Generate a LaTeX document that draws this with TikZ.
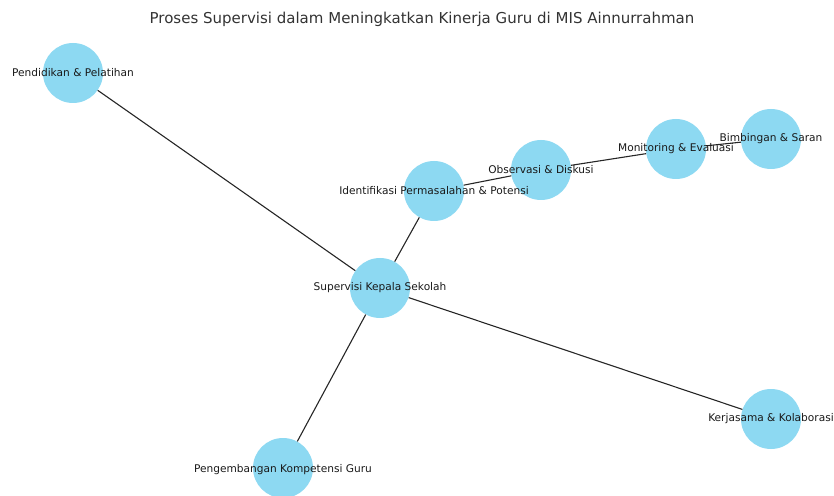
\documentclass[tikz,border=0pt]{standalone}
\usepackage{fontspec}
\setmainfont{DejaVu Sans}
\definecolor{nodeblue}{RGB}{141,217,242}
\definecolor{titlegray}{RGB}{51,51,51}
\begin{document}
\begin{tikzpicture}[x=1bp, y=-1bp]
    \tikzset{
        n/.style={circle, fill=nodeblue, minimum size=60bp, inner sep=0pt},
        t/.style={font=\fontsize{10.6bp}{12bp}\selectfont, text=black!90, inner sep=0pt},
        e/.style={line width=1.1bp, black!85}
        }
    \useasboundingbox (0,0) rectangle (834,496);

    %title
    \node (title) [font=\fontsize{15bp}{18bp}\selectfont, text=titlegray] at (422,19) {Proses Supervisi dalam Meningkatkan Kinerja Guru di MIS Ainnurrahman};

    %circles
    \node (sks) [n] at (380,288) {};
    \node (pp) [n] at (73,73) {};
    \node (ipp) [n] at (434,191) {};
    \node (od) [n] at (541,170) {};
    \node (me) [n] at (676,149) {};
    \node (bs) [n] at (771,139) {};
    \node (kk) [n] at (771,419) {};
    \node (pkg) [n] at (283,468) {};

    %edges
    \draw[e] (pp) -- (sks);
    \draw[e] (sks) -- (ipp);
    \draw[e] (ipp) -- (od);
    \draw[e] (od) -- (me);
    \draw[e] (me) -- (bs);
    \draw[e] (sks) -- (kk);
    \draw[e] (sks) -- (pkg);

    %labels
    \node (sks-t) [t] at (sks) {Supervisi Kepala Sekolah};
    \node (pp-t) [t] at (pp) {Pendidikan \& Pelatihan};
    \node (ipp-t) [t] at (ipp) {Identifikasi Permasalahan \& Potensi};
    \node (od-t) [t] at (od) {Observasi \& Diskusi};
    \node (me-t) [t] at (me) {Monitoring \& Evaluasi};
    \node (bs-t) [t] at (bs) {Bimbingan \& Saran};
    \node (kk-t) [t] at (kk) {Kerjasama \& Kolaborasi};
    \node (pkg-t) [t] at ([yshift=-2bp]pkg) {Pengembangan Kompetensi Guru};
\end{tikzpicture}
\end{document}
